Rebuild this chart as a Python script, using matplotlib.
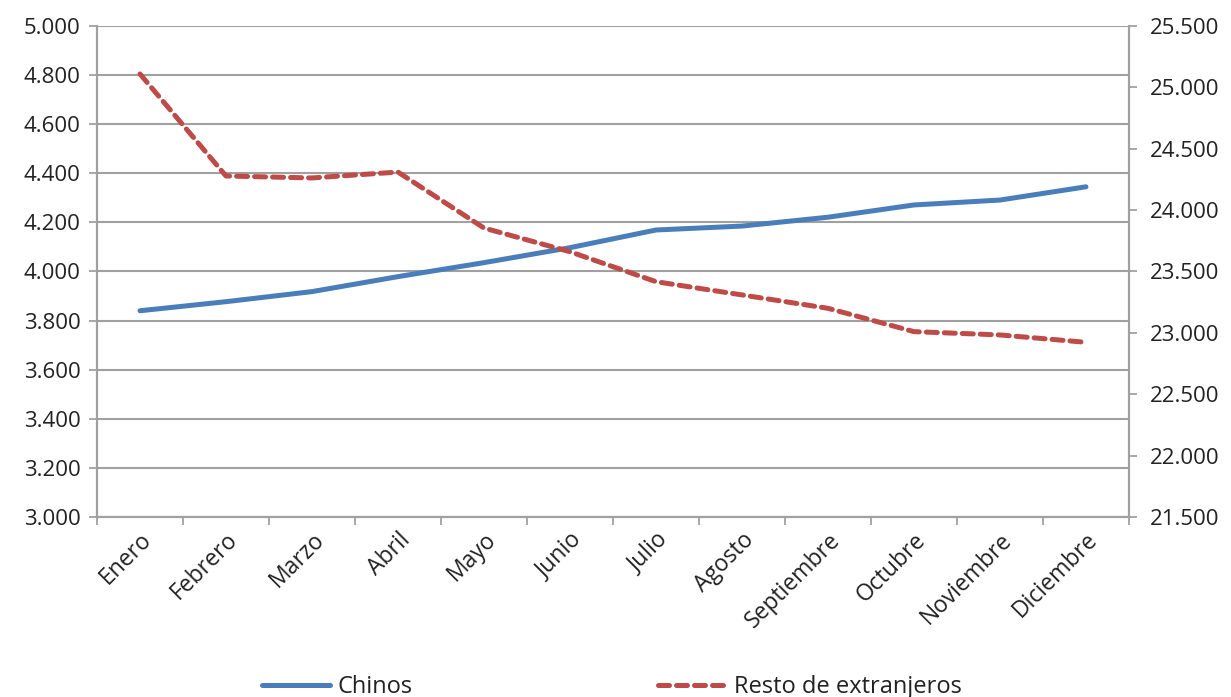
import numpy as np
import matplotlib
matplotlib.use("Agg")
import matplotlib.pyplot as plt
from matplotlib.ticker import FuncFormatter, FixedLocator

meses = ["Enero", "Febrero", "Marzo", "Abril", "Mayo", "Junio", "Julio",
         "Agosto", "Septiembre", "Octubre", "Noviembre", "Diciembre"]
chinos = [3840, 3877, 3918, 3979, 4036, 4097, 4169, 4185, 4221, 4271, 4291, 4345]
resto = [25109, 24278, 24262, 24310, 23854, 23661, 23417, 23309, 23200, 23010, 22983, 22923]

plt.rcParams['font.family'] = ['Open Sans', 'DejaVu Sans']
grey = "#a0a0a0"
azul = "#4a7ebb"
rojo = "#be4b48"
texto = "#222222"

fig = plt.figure(figsize=(12.31, 6.97), dpi=100)
ax1 = fig.add_axes([0.0788, 0.2583, 0.9171 - 0.0788, 0.9627 - 0.2583])
ax2 = ax1.twinx()

x = np.arange(len(meses))
l1, = ax1.plot(x, chinos, color=azul, lw=3.6, solid_capstyle='round', label="Chinos")
l2, = ax2.plot(x, resto, color=rojo, lw=3.6, dashes=(2.2, 1.4), dash_capstyle='round',
               label="Resto de extranjeros")

def miles(v, pos):
    return f"{v:,.0f}".replace(",", ".")

ax1.set_xlim(-0.5, len(meses) - 0.5)
ax1.set_ylim(3000, 5000)
ax1.set_yticks(np.arange(3000, 5001, 200))
ax1.yaxis.set_major_formatter(FuncFormatter(miles))
ax2.set_ylim(21500, 25500)
ax2.set_yticks(np.arange(21500, 25501, 500))
ax2.yaxis.set_major_formatter(FuncFormatter(miles))

ax1.set_xticks(x)
ax1.set_xticklabels(meses, rotation=45, ha='right', rotation_mode='anchor')
ax1.xaxis.set_minor_locator(FixedLocator(np.arange(-0.5, len(meses), 1)))
ax1.tick_params(axis='x', which='major', length=0, pad=8, labelsize=16.5, colors=texto)
ax1.tick_params(axis='x', which='minor', length=6, width=1.3, color=grey)
ax1.tick_params(axis='y', length=6, width=1.3, color=grey, labelsize=16, labelcolor=texto, pad=6)
ax2.tick_params(axis='y', length=6, width=1.3, color=grey, labelsize=16, labelcolor=texto, pad=9)

ax1.grid(axis='y', color=grey, lw=1.5)
ax1.set_axisbelow(True)
for ax in (ax1, ax2):
    ax.spines['top'].set_visible(False)
    for s in ('left', 'right', 'bottom'):
        ax.spines[s].set_color(grey)
        ax.spines[s].set_linewidth(1.5)

leg = fig.legend(handles=[l1, l2], loc='center', bbox_to_anchor=(0.497, 0.014), ncol=2,
                 frameon=False, fontsize=17, handlelength=2.9, columnspacing=10.4,
                 handletextpad=0.3, borderpad=0)
for t in leg.get_texts():
    t.set_color(texto)

fig.savefig("out.png", dpi=100)
